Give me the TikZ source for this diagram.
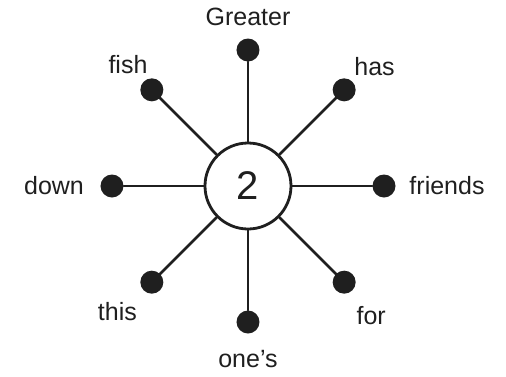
\documentclass[tikz,border=0pt]{standalone}
\usepackage{fontspec}
\setmainfont{Liberation Sans}
\begin{document}
\begin{tikzpicture}[x=1pt,y=1pt,declare function={r=136;},line join=round,line cap=round,
	spoke/.style={line width=2.8pt,black!88},
	dot/.style={circle,fill=black!88,inner sep=0pt,minimum size=23pt},
	word/.style={font=\fontsize{25}{30}\selectfont,text=black!88,inner sep=0pt}]
	\useasboundingbox (-248,-190) rectangle (258,186);
	\node[circle,draw=black!88,line width=2.8pt,minimum size=86pt,inner sep=0pt,font=\fontsize{40}{48}\selectfont,text=black!88] (c) at (0,0) {2};
	\foreach \x/\goc/\la/\d/\w in {greater/90/90/33/Greater,has/45/37/38/has,friends/0/0/63/friends,for/-45/-51/43/for,ones/-90/-90/37/one's,this/-135/-140/45/this,down/180/180/58/down,fish/135/133/35/fish}
	{
		\node[dot] (\x) at (\goc:r) {};
		\draw[spoke] (c)--(\x);
		\node[word,shift={(\la:\d)}] (w-\x) at (\x) {\w};
	}
\end{tikzpicture}
\end{document}
